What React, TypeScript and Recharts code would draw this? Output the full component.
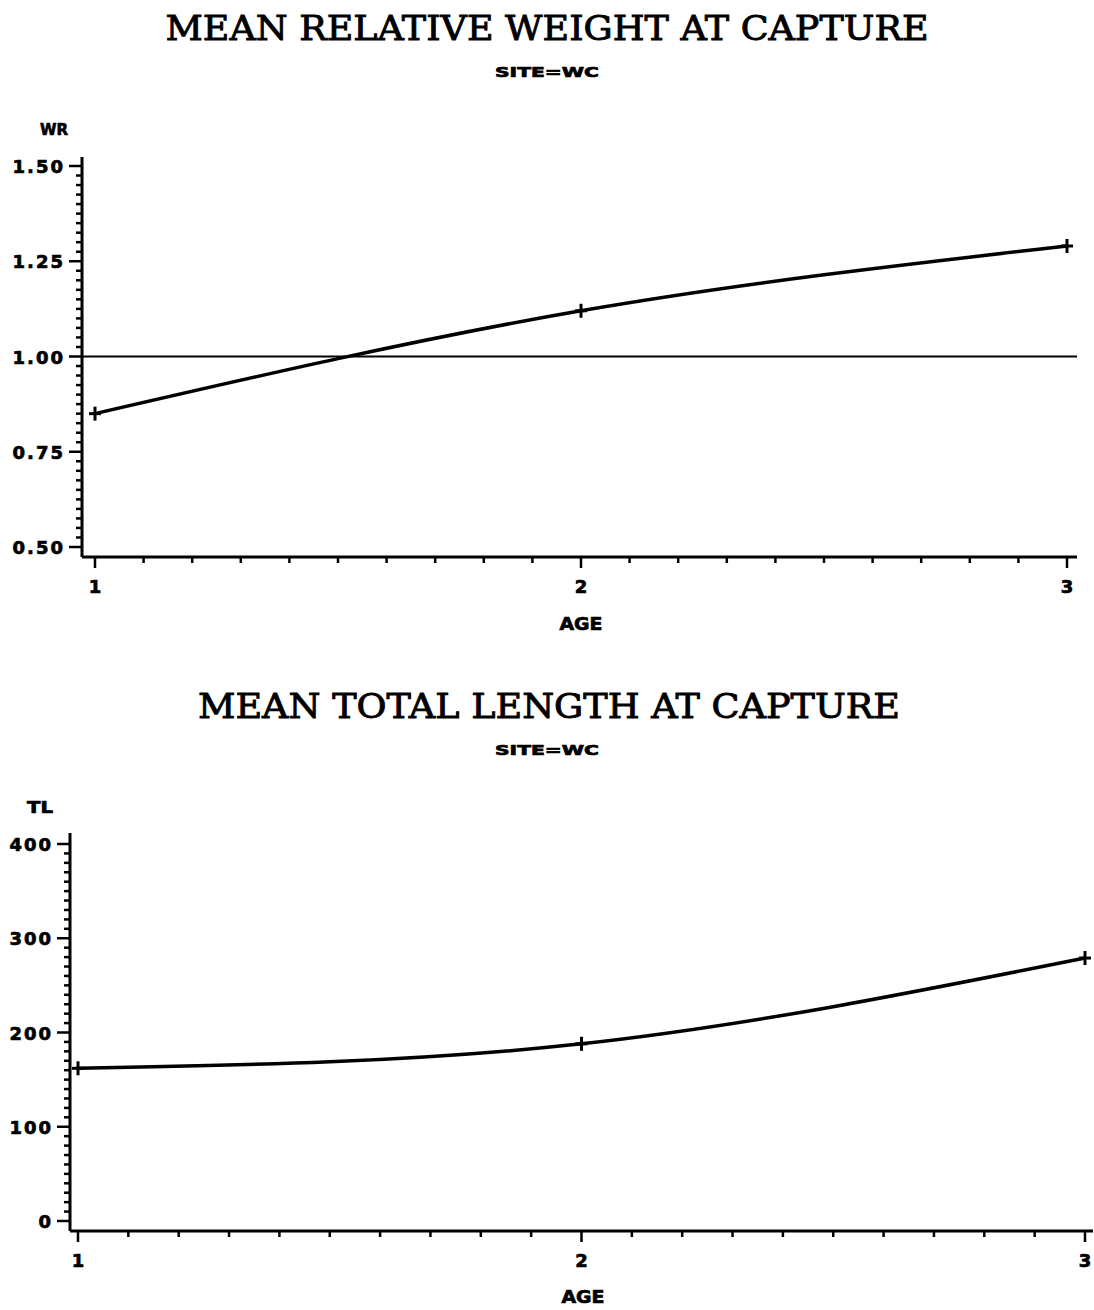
import React from 'react';
import { LineChart, Line, XAxis, YAxis, ReferenceLine } from 'recharts';

// Mean values by age class for site WC
const ages = [1, 2, 3];
const meanRelativeWeight = [0.85, 1.12, 1.29];
const meanTotalLength = [162, 188, 279];

// Labelled axis ticks
const ageMajorTicks = [1, 2, 3];
const ageTickLabels = ['1', '2', '3'];
const wrMajorTicks = [0.5, 0.75, 1.0, 1.25, 1.5];
const wrTickLabels = ['0.50', '0.75', '1.00', '1.25', '1.50'];
const tlMajorTicks = [0, 100, 200, 300, 400];
const tlTickLabels = ['0', '100', '200', '300', '400'];

// Reference level for relative weight
const wrStandard = 1.0;

const wrData = ages.map((age, i) => ({ age, value: meanRelativeWeight[i] }));
const tlData = ages.map((age, i) => ({ age, value: meanTotalLength[i] }));

// Evenly spaced tick positions (integer steps to avoid float drift)
const steps = (start: number, end: number, step: number) => {
  const n = Math.round((end - start) / step);
  const out: number[] = [];
  for (let i = 0; i <= n; i++) out.push(+(start + i * step).toFixed(6));
  return out;
};

const ageTicks = steps(1, 3, 0.1);
const wrTicks = steps(0.5, 1.5, 0.025);
const tlTicks = steps(0, 400, 10);

const INK = '#000';
const TICK_FONT = "'DejaVu Sans', Verdana, sans-serif";
const AXIS_W = 3;

const labelFor = (v: number, majors: number[], labels: string[]) => {
  const idx = majors.findIndex((m) => Math.abs(m - v) < 1e-6);
  return idx >= 0 ? labels[idx] : null;
};

const makeYTick = (majors: number[], labels: string[]) => (props: any) => {
  const { x, y, payload } = props;
  const label = labelFor(payload.value, majors, labels);
  const len = label !== null ? 13 : 6;
  return (
    <g>
      <line x1={x - len} y1={y} x2={x + 1} y2={y} stroke={INK} strokeWidth={2.5} />
      {label !== null && (
        <text
          x={x - 17}
          y={y + 7}
          textAnchor="end"
          fontFamily={TICK_FONT}
          fontWeight="bold"
          fontSize={18}
          letterSpacing={2}
          fill={INK}
          stroke={INK}
          strokeWidth={0.7}
        >
          {label}
        </text>
      )}
    </g>
  );
};

const makeXTick = (majors: number[], labels: string[]) => (props: any) => {
  const { x, y, payload } = props;
  const label = labelFor(payload.value, majors, labels);
  const len = label !== null ? 11 : 6;
  return (
    <g>
      <line x1={x} y1={y - 1} x2={x} y2={y + len} stroke={INK} strokeWidth={2.5} />
      {label !== null && (
        <text
          x={x}
          y={y + 36}
          textAnchor="middle"
          fontFamily={TICK_FONT}
          fontWeight="bold"
          fontSize={18}
          fill={INK}
          stroke={INK}
          strokeWidth={0.7}
        >
          {label}
        </text>
      )}
    </g>
  );
};

const PlusMark = (props: any) => {
  const { cx, cy } = props;
  if (cx == null || cy == null) return null;
  return (
    <g>
      <line x1={cx - 6} y1={cy} x2={cx + 6} y2={cy} stroke={INK} strokeWidth={3} />
      <line x1={cx} y1={cy - 7} x2={cx} y2={cy + 7} stroke={INK} strokeWidth={3} />
    </g>
  );
};

const Headings = () => (
  <svg
    width={1094}
    height={1310}
    style={{ position: 'absolute', left: 0, top: 0, pointerEvents: 'none' }}
  >
    <g fill={INK} stroke={INK}>
      <text x={547} y={40} textAnchor="middle" fontFamily="'DejaVu Serif', serif" fontSize={34}
        strokeWidth={0.9} textLength={763} lengthAdjust="spacingAndGlyphs">
        MEAN RELATIVE WEIGHT AT CAPTURE
      </text>
      <text x={547} y={77} textAnchor="middle" fontFamily={TICK_FONT} fontWeight="bold" fontSize={14}
        strokeWidth={0.7} textLength={104} lengthAdjust="spacingAndGlyphs">
        SITE=WC
      </text>
      <text x={40} y={135} fontFamily={TICK_FONT} fontWeight="bold" fontSize={16}
        strokeWidth={0.7} textLength={28} lengthAdjust="spacingAndGlyphs">
        WR
      </text>
      <text x={581} y={630} textAnchor="middle" fontFamily={TICK_FONT} fontWeight="bold" fontSize={17}
        strokeWidth={0.7} textLength={43} lengthAdjust="spacingAndGlyphs">
        AGE
      </text>

      <text x={549} y={718} textAnchor="middle" fontFamily="'DejaVu Serif', serif" fontSize={34}
        strokeWidth={0.9} textLength={702} lengthAdjust="spacingAndGlyphs">
        MEAN TOTAL LENGTH AT CAPTURE
      </text>
      <text x={547} y={755} textAnchor="middle" fontFamily={TICK_FONT} fontWeight="bold" fontSize={14}
        strokeWidth={0.7} textLength={104} lengthAdjust="spacingAndGlyphs">
        SITE=WC
      </text>
      <text x={27} y={813} fontFamily={TICK_FONT} fontWeight="bold" fontSize={16}
        strokeWidth={0.7} textLength={26} lengthAdjust="spacingAndGlyphs">
        TL
      </text>
      <text x={583} y={1303} textAnchor="middle" fontFamily={TICK_FONT} fontWeight="bold" fontSize={17}
        strokeWidth={0.7} textLength={43} lengthAdjust="spacingAndGlyphs">
        AGE
      </text>
    </g>
  </svg>
);

export default function App() {
  return (
    <div
      style={{
        position: 'absolute',
        left: 0,
        top: 0,
        width: 1094,
        height: 1310,
        background: '#fff',
        overflow: 'hidden',
      }}
    >
      {/* Relative weight by age */}
      <div style={{ position: 'absolute', left: 0, top: 0 }}>
        <LineChart width={1094} height={640} data={wrData}
          margin={{ top: 157, right: 17, bottom: 43, left: 0 }}>
          <XAxis
            dataKey="age"
            type="number"
            domain={[1, 3]}
            ticks={ageTicks}
            interval={0}
            padding={{ left: 13, right: 10 }}
            height={40}
            tickSize={0}
            tickMargin={0}
            tickLine={false}
            axisLine={{ stroke: INK, strokeWidth: AXIS_W }}
            tick={makeXTick(ageMajorTicks, ageTickLabels)}
          />
          <YAxis
            type="number"
            domain={[0.5, 1.5]}
            ticks={wrTicks}
            interval={0}
            padding={{ top: 9, bottom: 10 }}
            width={82}
            tickSize={0}
            tickMargin={0}
            tickLine={false}
            axisLine={{ stroke: INK, strokeWidth: AXIS_W }}
            tick={makeYTick(wrMajorTicks, wrTickLabels)}
          />
          <ReferenceLine y={wrStandard} stroke={INK} strokeWidth={2.2} ifOverflow="extendDomain" />
          <Line
            type="natural"
            dataKey="value"
            stroke={INK}
            strokeWidth={3.5}
            dot={<PlusMark />}
            activeDot={false}
            isAnimationActive={false}
          />
        </LineChart>
      </div>

      {/* Total length by age */}
      <div style={{ position: 'absolute', left: 0, top: 660 }}>
        <LineChart width={1094} height={650} data={tlData}
          margin={{ top: 173, right: 1, bottom: 39, left: 0 }}>
          <XAxis
            dataKey="age"
            type="number"
            domain={[1, 3]}
            ticks={ageTicks}
            interval={0}
            padding={{ left: 8, right: 8 }}
            height={40}
            tickSize={0}
            tickMargin={0}
            tickLine={false}
            axisLine={{ stroke: INK, strokeWidth: AXIS_W }}
            tick={makeXTick(ageMajorTicks, ageTickLabels)}
          />
          <YAxis
            type="number"
            domain={[0, 400]}
            ticks={tlTicks}
            interval={0}
            padding={{ top: 11, bottom: 10 }}
            width={70}
            tickSize={0}
            tickMargin={0}
            tickLine={false}
            axisLine={{ stroke: INK, strokeWidth: AXIS_W }}
            tick={makeYTick(tlMajorTicks, tlTickLabels)}
          />
          <Line
            type="natural"
            dataKey="value"
            stroke={INK}
            strokeWidth={3.5}
            dot={<PlusMark />}
            activeDot={false}
            isAnimationActive={false}
          />
        </LineChart>
      </div>

      <Headings />
    </div>
  );
}
